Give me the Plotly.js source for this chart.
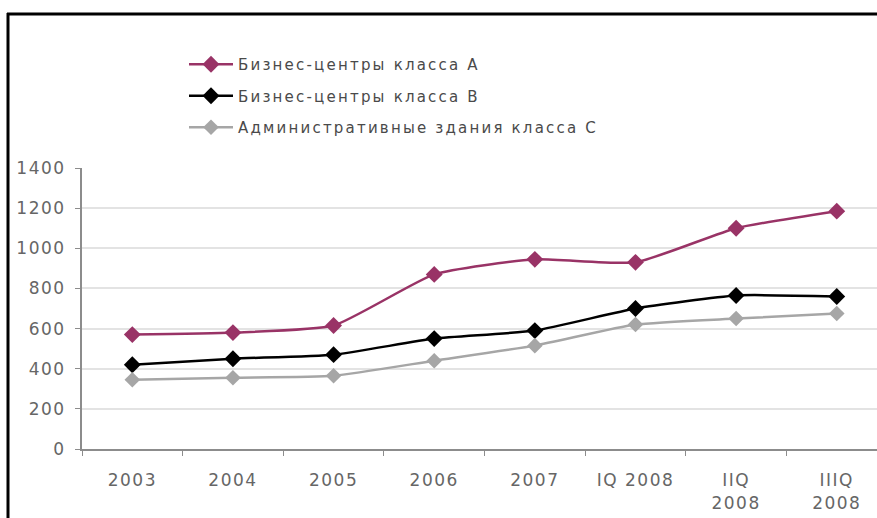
<!DOCTYPE html>
<html>
<head>
<meta charset="utf-8">
<script src="https://cdn.plot.ly/plotly-3.0.1.min.js"></script>
<style>
html,body{margin:0;padding:0;background:#fff;}
#chart{width:877px;height:518px;}
#chart .legendtext{letter-spacing:2.2px;}
#chart g.legend g.scrollbox{clip-path:none !important;}
#chart .xtick text, #chart .ytick text{letter-spacing:1.5px;}
</style>
</head>
<body>
<div id="chart"></div>
<script>
const categories = ["2003","2004","2005","2006","2007","IQ 2008","IIQ<br>2008","IIIQ<br>2008"];
const seriesNames = ["Бизнес-центры класса А","Бизнес-центры класса В","Административные здания класса С"];
const classA = [570, 580, 615, 870, 945, 930, 1100, 1185];
const classB = [420, 450, 470, 550, 590, 700, 765, 760];
const classC = [345, 355, 365, 440, 515, 620, 650, 675];
const yTicks = [0, 200, 400, 600, 800, 1000, 1200, 1400];

const colors = ["#993366", "#000000", "#a6a6a6"];
const sizes = [13, 13, 12];
const data = [classA, classB, classC].map((vals, i) => ({
  type: "scatter",
  mode: "lines+markers",
  x: categories,
  y: vals,
  name: seriesNames[i],
  legendgroup: "g" + i,
  line: {color: colors[i], width: 2.5, shape: "spline", smoothing: 0.5},
  marker: {symbol: "diamond", size: sizes[i], color: colors[i]}
}));

const L = 82, R = 0, T = 168, B = 69;
const W = 877 - L - R, H = 518 - T - B;
const px = v => (v - L) / W;
const py = v => (518 - B - v) / H;

const layout = {
  width: 877, height: 518,
  margin: {l: L, r: R, t: T, b: B},
  paper_bgcolor: "#fff", plot_bgcolor: "#fff",
  font: {family: "DejaVu Sans, sans-serif", size: 15, color: "#5f5f5f"},
  showlegend: true,
  legend: {
    x: px(184), y: py(48), xanchor: "left", yanchor: "top",
    bgcolor: "rgba(0,0,0,0)", tracegroupgap: 9, itemwidth: 44,
    font: {family: "DejaVu Sans, sans-serif", size: 15, color: "#4a4a4a"}
  },
  xaxis: {
    type: "category", range: [-0.5, 7.4],
    showline: true, linecolor: "#8c8c8c", linewidth: 2,
    ticks: "outside", ticklen: 5, tickcolor: "#8c8c8c", tickson: "boundaries",
    showgrid: false, tickfont: {family: "DejaVu Sans, sans-serif", size: 17, color: "#666666"},
    ticklabelstandoff: 15, fixedrange: true
  },
  yaxis: {
    range: [0, 1400], tickvals: yTicks,
    showline: true, linecolor: "#8c8c8c", linewidth: 2,
    ticks: "outside", ticklen: 5, tickcolor: "#8c8c8c",
    showgrid: true, gridcolor: "#e3e3e3", gridwidth: 2,
    zeroline: false, tickfont: {family: "DejaVu Sans, sans-serif", size: 17, color: "#666666"},
    ticklabelstandoff: 6
  },
  shapes: [
    {type: "line", xref: "paper", yref: "paper", x0: px(8), x1: px(8), y0: py(13), y1: py(520), line: {color: "#000", width: 3}},
    {type: "line", xref: "paper", yref: "paper", x0: px(7), x1: px(878), y0: py(14), y1: py(14), line: {color: "#000", width: 3}}
  ]
};

Plotly.newPlot("chart", data, layout, {displayModeBar: false, staticPlot: true});
</script>
</body>
</html>
